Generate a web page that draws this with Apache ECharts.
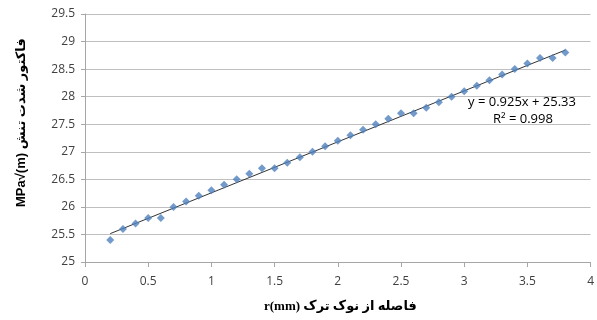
<!DOCTYPE html>
<html style="height: 100%">
<head>
	<meta charset="utf-8">
</head>
<body style="height: 100%; margin: 0; background: #fff">
<div id="container" style="width: 597px; height: 320px"></div>
<script type="text/javascript" src="https://cdn.jsdelivr.net/npm/echarts@6/dist/echarts.min.js"></script>
<script type="text/javascript">
    // crack tip distance r (mm)
    var rValues = [0.2, 0.3, 0.4, 0.5, 0.6, 0.7, 0.8, 0.9, 1.0, 1.1, 1.2, 1.3, 1.4, 1.5, 1.6, 1.7, 1.8, 1.9,
        2.0, 2.1, 2.2, 2.3, 2.4, 2.5, 2.6, 2.7, 2.8, 2.9, 3.0, 3.1, 3.2, 3.3, 3.4, 3.5, 3.6, 3.7, 3.8];
    // stress intensity factor
    var kValues = [25.4, 25.6, 25.7, 25.8, 25.8, 26.0, 26.1, 26.2, 26.3, 26.4, 26.5, 26.6, 26.7, 26.7, 26.8, 26.9, 27.0, 27.1,
        27.2, 27.3, 27.4, 27.5, 27.6, 27.7, 27.7, 27.8, 27.9, 28.0, 28.1, 28.2, 28.3, 28.4, 28.5, 28.6, 28.7, 28.7, 28.8];
    // trendline
    var slope = 0.925;
    var intercept = 25.33;
    var rSquared = 0.998;

    var points = [];
    for (var i = 0; i < rValues.length; i++) {
        points.push([rValues[i], kValues[i]]);
    }
    var xFirst = rValues[0], xLast = rValues[rValues.length - 1];
    var trend = [[xFirst, slope * xFirst + intercept], [xLast, slope * xLast + intercept]];

    var dom = document.getElementById("container");
    var myChart = echarts.init(dom, null, {renderer: 'canvas'});
    var labelFont = 'Open Sans, Noto Sans, sans-serif';

    var option = {
        backgroundColor: '#fff',
        animation: false,
        grid: {left: 85, right: 2, top: 14, bottom: 58},
        xAxis: {
            type: 'value', min: 0, max: 4, interval: 0.5,
            axisLine: {lineStyle: {color: '#a6a6a6'}},
            axisTick: {show: true, length: 5, lineStyle: {color: '#a6a6a6'}},
            splitLine: {show: false},
            axisLabel: {color: '#404040', fontSize: 12, fontFamily: labelFont, margin: 14}
        },
        yAxis: {
            type: 'value', min: 25, max: 29.5, interval: 0.5,
            axisLine: {show: true, lineStyle: {color: '#a6a6a6'}},
            axisTick: {show: true, length: 4, lineStyle: {color: '#a6a6a6'}},
            splitLine: {lineStyle: {color: '#bfbfbf'}},
            axisLabel: {color: '#404040', fontSize: 12, fontFamily: labelFont, margin: 10}
        },
        graphic: [{
            type: 'text', left: 264, top: 300,
            style: {text: 'r(mm) فاصله از نوک ترک', fill: '#000', font: 'bold 13px Liberation Serif, DejaVu Sans, serif'}
        }, {
            type: 'text', x: 15, y: 207, rotation: Math.PI / 2,
            style: {text: 'MPa√(m) فاکتور شدت تنش', fill: '#000', font: 'bold 13px Liberation Sans, DejaVu Sans, sans-serif'}
        }, {
            type: 'text', left: 468, top: 96,
            style: {text: 'y = ' + slope + 'x + ' + intercept, fill: '#000', font: '13px ' + labelFont}
        }, {
            type: 'text', left: 493, top: 113,
            style: {text: 'R² = ' + rSquared, fill: '#000', font: '13px ' + labelFont}
        }],
        series: [{
            type: 'line',
            data: trend,
            symbol: 'none',
            lineStyle: {color: '#333', width: 1},
            z: 1
        }, {
            type: 'scatter',
            data: points,
            symbol: 'diamond',
            symbolSize: 8,
            itemStyle: {color: '#4f81bd'},
            z: 2
        }]
    };

    myChart.setOption(option, true);
</script>
</body>
</html>
